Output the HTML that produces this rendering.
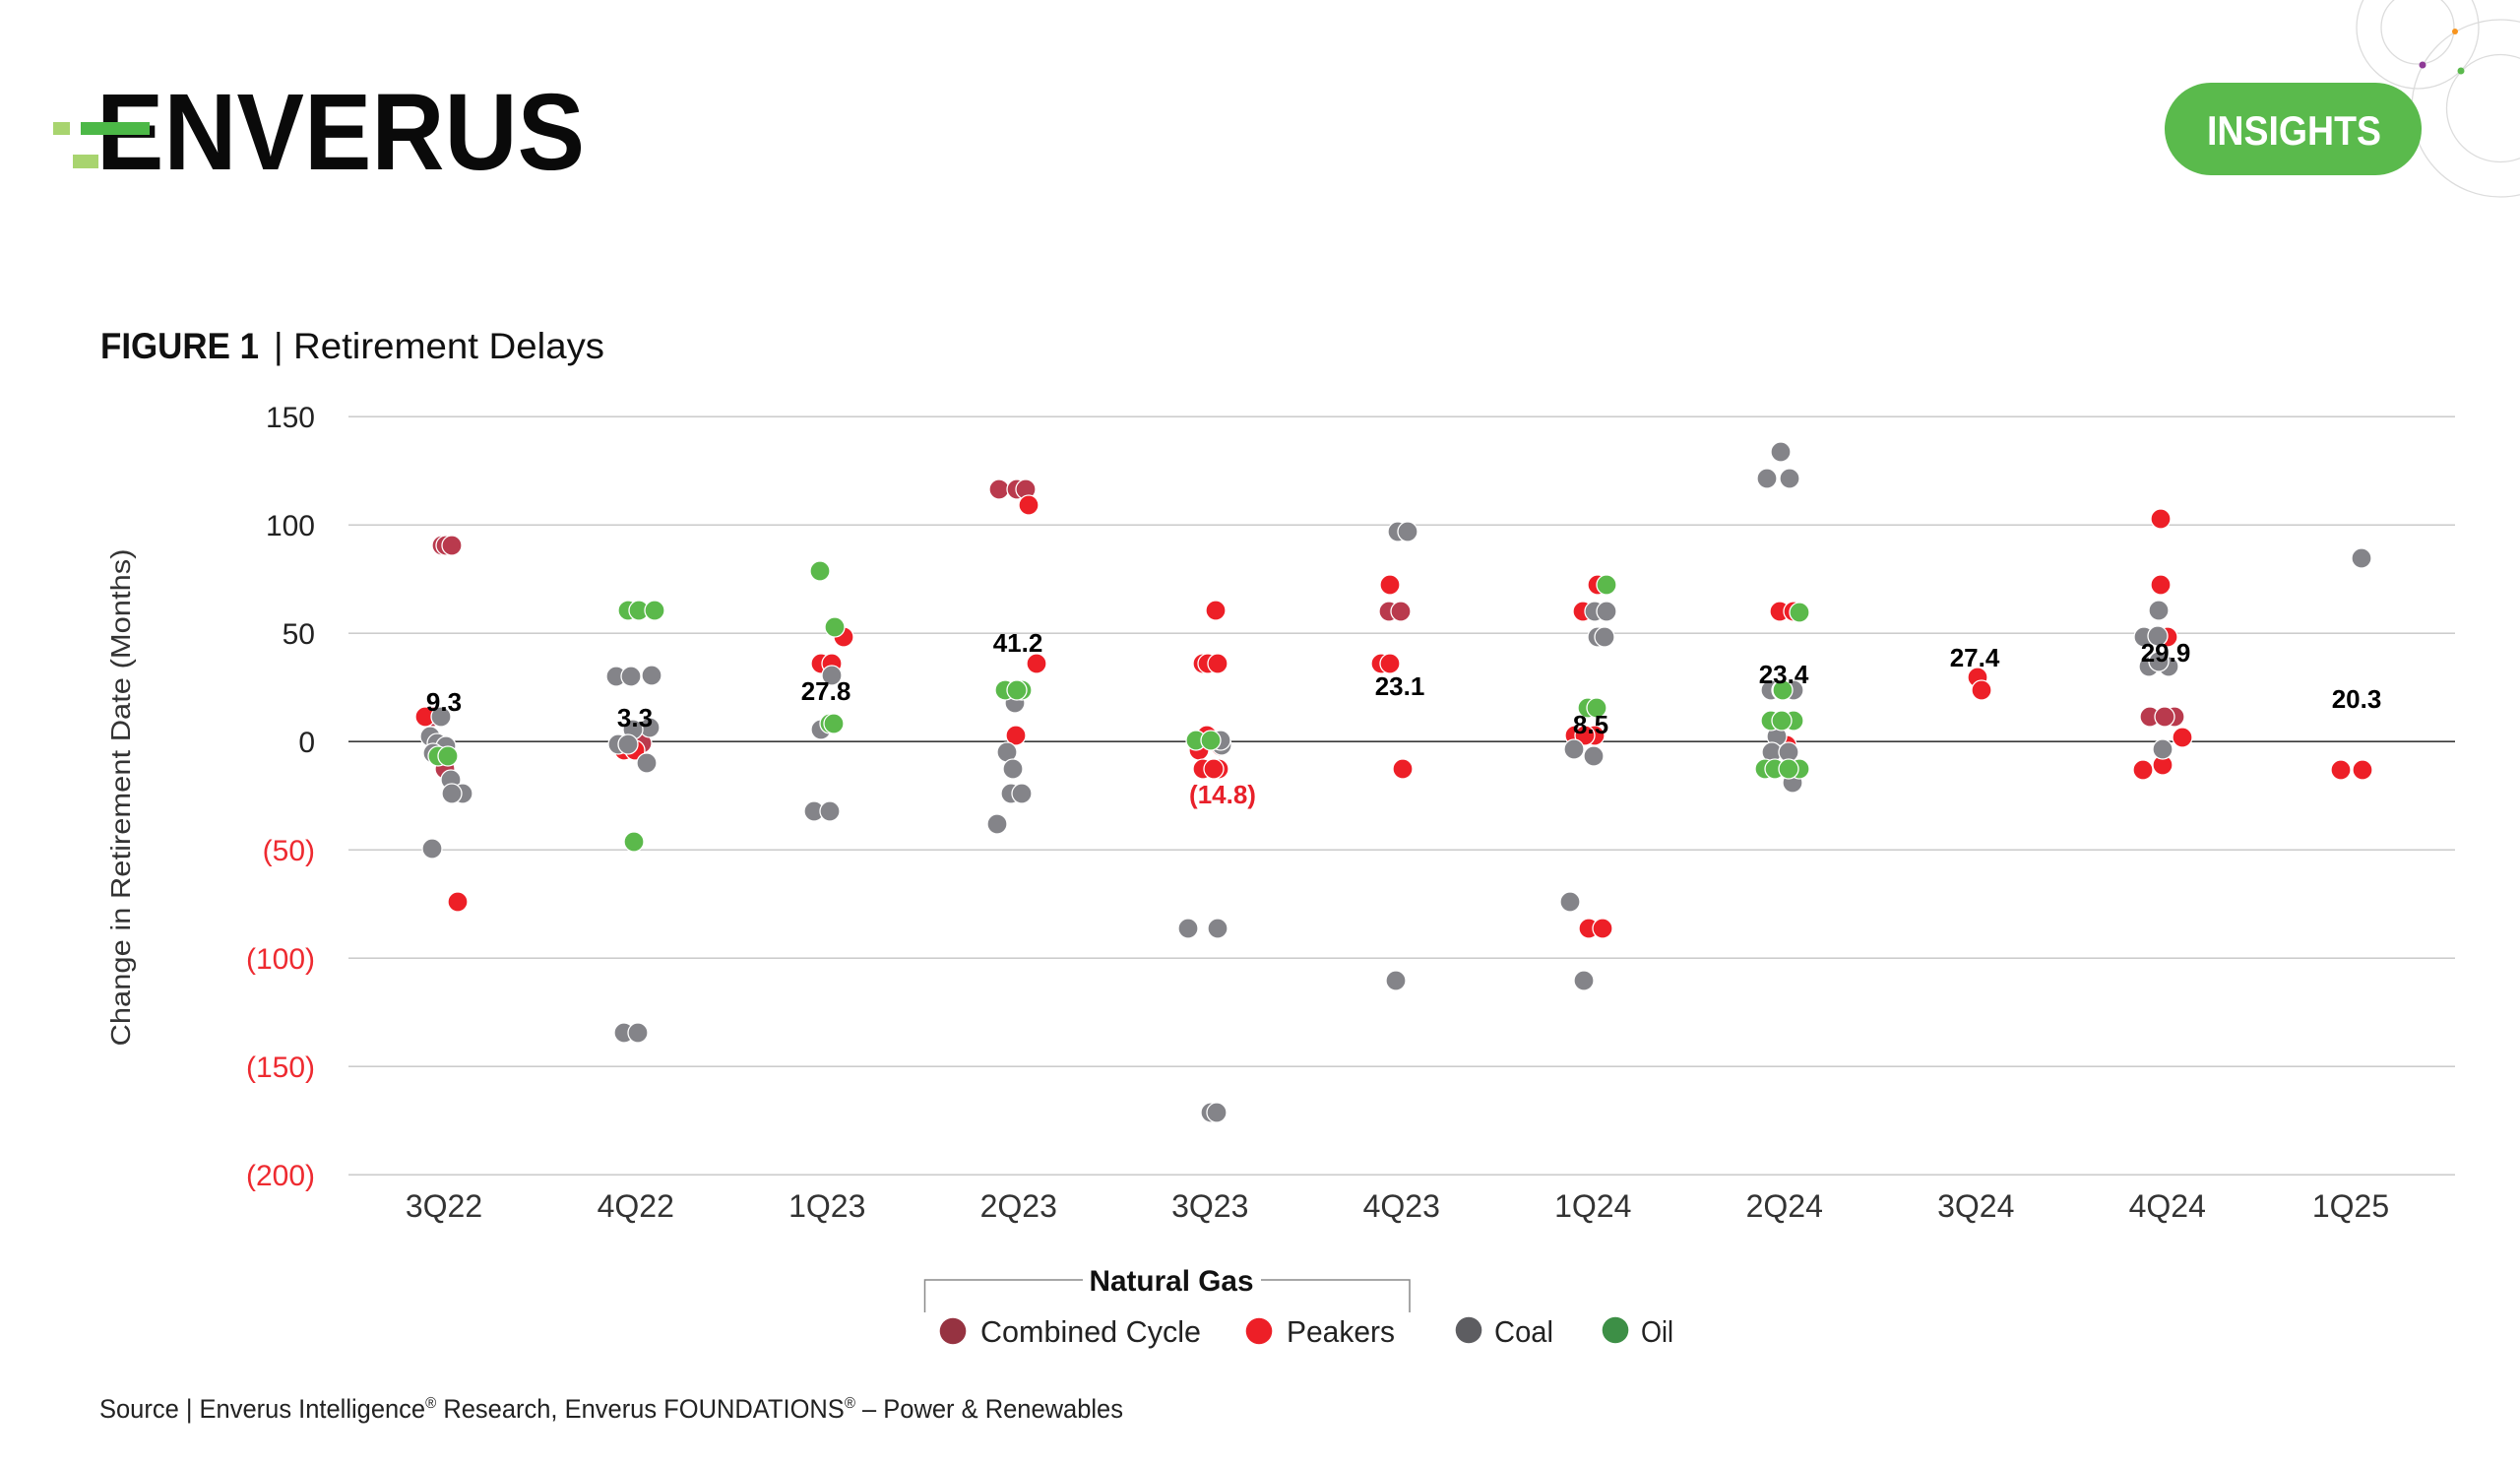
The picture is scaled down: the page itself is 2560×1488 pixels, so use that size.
<!DOCTYPE html>
<html><head><meta charset="utf-8"><style>
html,body{margin:0;padding:0;background:#fff;}
svg{display:block;font-family:"Liberation Sans",Arial,sans-serif;}
.cc{fill:#b93a4d;stroke:#fff;stroke-width:1.3}
.pk{fill:#ed1f27;stroke:#fff;stroke-width:1.3}
.co{fill:#848489;stroke:#fff;stroke-width:1.3}
.oi{fill:#5bb94b;stroke:#fff;stroke-width:1.3}
.yl{font-size:30px;fill:#222;text-anchor:end}
.yn{font-size:30px;fill:#ee2a30;text-anchor:end}
.xl{font-size:32px;fill:#333;text-anchor:middle}
.dl{font-size:26px;font-weight:bold;fill:#000;text-anchor:middle}
</style></head><body>
<svg width="2560" height="1488" viewBox="0 0 2560 1488" xmlns="http://www.w3.org/2000/svg">
<rect width="2560" height="1488" fill="#fff"/>
<!-- decorative circles -->
<g fill="none" stroke="#dcdcdc" stroke-width="1.3">
<circle cx="2456" cy="28" r="37"/><circle cx="2456" cy="28" r="62"/>
<circle cx="2540" cy="110" r="90"/><circle cx="2540" cy="110" r="54.5"/>
</g>
<circle cx="2494" cy="32" r="3" fill="#f7941d"/>
<circle cx="2461" cy="66" r="3.5" fill="#8e3a96"/>
<circle cx="2500" cy="72" r="3.5" fill="#5ab94c"/>
<!-- logo -->
<text x="98" y="172" font-size="110" font-weight="bold" fill="#0a0a0a" textLength="496" lengthAdjust="spacingAndGlyphs">ENVERUS</text>
<rect x="54" y="124" width="17" height="13" fill="#a8d46f"/>
<rect x="82" y="124" width="70" height="13" fill="#4cb847"/>
<rect x="74" y="157" width="26" height="14" fill="#a8d46f"/>
<!-- insights pill -->
<rect x="2199" y="84" width="261" height="94" rx="47" fill="#5aba4c"/>
<text x="2330.5" y="147" font-size="42" font-weight="bold" fill="#fff" text-anchor="middle" textLength="177" lengthAdjust="spacingAndGlyphs">INSIGHTS</text>
<!-- title -->
<text x="102" y="364" font-size="37" fill="#111"><tspan font-weight="bold" textLength="161" lengthAdjust="spacingAndGlyphs">FIGURE 1</tspan></text>
<text x="278" y="364" font-size="37" fill="#111">|</text>
<text x="298" y="364" font-size="37" fill="#111" textLength="316" lengthAdjust="spacingAndGlyphs">Retirement Delays</text>
<!-- gridlines -->
<g stroke="#c4c4c4" stroke-width="1.3">
<line x1="354" y1="423.2" x2="2494" y2="423.2"/>
<line x1="354" y1="533.2" x2="2494" y2="533.2"/>
<line x1="354" y1="643.2" x2="2494" y2="643.2"/>
<line x1="354" y1="863.2" x2="2494" y2="863.2"/>
<line x1="354" y1="973.2" x2="2494" y2="973.2"/>
<line x1="354" y1="1083.2" x2="2494" y2="1083.2"/>
<line x1="354" y1="1193.2" x2="2494" y2="1193.2"/>
</g>
<line x1="354" y1="753.2" x2="2494" y2="753.2" stroke="#3a3a3a" stroke-width="1.6"/>
<!-- y labels -->
<text class="yl" x="320" y="434">150</text>
<text class="yl" x="320" y="544">100</text>
<text class="yl" x="320" y="654">50</text>
<text class="yl" x="320" y="764">0</text>
<text class="yn" x="320" y="874">(50)</text>
<text class="yn" x="320" y="984">(100)</text>
<text class="yn" x="320" y="1094">(150)</text>
<text class="yn" x="320" y="1204">(200)</text>
<text x="0" y="0" font-size="28" fill="#333" text-anchor="middle" transform="translate(132 810) rotate(-90)" textLength="505" lengthAdjust="spacingAndGlyphs">Change in Retirement Date (Months)</text>
<!-- x labels -->
<g>
<text class="xl" x="451" y="1236">3Q22</text>
<text class="xl" x="645.75" y="1236">4Q22</text>
<text class="xl" x="840.25" y="1236">1Q23</text>
<text class="xl" x="1034.75" y="1236">2Q23</text>
<text class="xl" x="1229.25" y="1236">3Q23</text>
<text class="xl" x="1423.75" y="1236">4Q23</text>
<text class="xl" x="1618.25" y="1236">1Q24</text>
<text class="xl" x="1812.75" y="1236">2Q24</text>
<text class="xl" x="2007.25" y="1236">3Q24</text>
<text class="xl" x="2201.75" y="1236">4Q24</text>
<text class="xl" x="2388" y="1236">1Q25</text>
</g>
<!-- points: CC -->
<g class="cc">
<circle cx="449" cy="554" r="10"/><circle cx="453" cy="554" r="10"/><circle cx="459" cy="554" r="10"/>
<circle cx="440" cy="728" r="10"/><circle cx="452" cy="781" r="10"/>
<circle cx="652" cy="755" r="10"/>
<circle cx="1015" cy="497" r="10"/><circle cx="1033" cy="497" r="10"/><circle cx="1042" cy="497" r="10"/>
<circle cx="1411" cy="621" r="10"/><circle cx="1423" cy="621" r="10"/>
<circle cx="2184" cy="728" r="10"/><circle cx="2209" cy="728" r="10"/><circle cx="2199" cy="728" r="10"/>
</g>
<!-- Peakers -->
<g class="pk">
<circle cx="432" cy="728" r="10"/><circle cx="465" cy="916" r="10"/>
<circle cx="634" cy="762" r="10"/><circle cx="645" cy="762" r="10"/>
<circle cx="857" cy="647" r="10"/><circle cx="834" cy="674" r="10"/><circle cx="845" cy="674" r="10"/>
<circle cx="1045" cy="513" r="10"/><circle cx="1053" cy="674" r="10"/><circle cx="1032" cy="747" r="10"/>
<circle cx="1235" cy="620" r="10"/><circle cx="1222" cy="674" r="10"/><circle cx="1227" cy="674" r="10"/><circle cx="1237" cy="674" r="10"/>
<circle cx="1226" cy="747" r="10"/><circle cx="1240" cy="758" r="10"/><circle cx="1218" cy="762" r="10"/>
<circle cx="1222" cy="781" r="10"/><circle cx="1238" cy="781" r="10"/><circle cx="1233" cy="781" r="10"/>
<circle cx="1412" cy="594" r="10"/><circle cx="1403" cy="674" r="10"/><circle cx="1412" cy="674" r="10"/><circle cx="1425" cy="781" r="10"/>
<circle cx="1623" cy="594" r="10"/><circle cx="1608" cy="621" r="10"/>
<circle cx="1600" cy="747" r="10"/><circle cx="1620" cy="747" r="10"/><circle cx="1610" cy="747" r="10"/>
<circle cx="1614" cy="943" r="10"/><circle cx="1628" cy="943" r="10"/>
<circle cx="1808" cy="621" r="10"/><circle cx="1822" cy="621" r="10"/><circle cx="1815" cy="757" r="10"/>
<circle cx="2009" cy="688" r="10"/><circle cx="2013" cy="701" r="10"/>
<circle cx="2195" cy="527" r="10"/><circle cx="2195" cy="594" r="10"/><circle cx="2202" cy="647" r="10"/>
<circle cx="2217" cy="749" r="10"/><circle cx="2197" cy="777" r="10"/><circle cx="2177" cy="782" r="10"/>
<circle cx="2378" cy="782" r="10"/><circle cx="2400" cy="782" r="10"/>
</g>
<!-- Coal -->
<g class="co">
<circle cx="448" cy="728" r="10"/><circle cx="437" cy="748" r="10"/><circle cx="444" cy="755" r="10"/><circle cx="453" cy="758" r="10"/>
<circle cx="440" cy="765" r="10"/><circle cx="458" cy="792" r="10"/><circle cx="470" cy="806" r="10"/><circle cx="459" cy="806" r="10"/>
<circle cx="439" cy="862" r="10"/>
<circle cx="626" cy="687" r="10"/><circle cx="641" cy="687" r="10"/><circle cx="662" cy="686" r="10"/>
<circle cx="660" cy="739" r="10"/><circle cx="643" cy="741" r="10"/><circle cx="628" cy="756" r="10"/><circle cx="638" cy="756" r="10"/>
<circle cx="657" cy="775" r="10"/><circle cx="634" cy="1049" r="10"/><circle cx="648" cy="1049" r="10"/>
<circle cx="845" cy="686" r="10"/><circle cx="834" cy="741" r="10"/><circle cx="827" cy="824" r="10"/><circle cx="843" cy="824" r="10"/>
<circle cx="1031" cy="714" r="10"/><circle cx="1023" cy="764" r="10"/><circle cx="1029" cy="781" r="10"/>
<circle cx="1027" cy="806" r="10"/><circle cx="1038" cy="806" r="10"/><circle cx="1013" cy="837" r="10"/>
<circle cx="1241" cy="757" r="10"/><circle cx="1240" cy="752" r="10"/>
<circle cx="1207" cy="943" r="10"/><circle cx="1237" cy="943" r="10"/><circle cx="1230" cy="1130" r="10"/><circle cx="1236" cy="1130" r="10"/>
<circle cx="1420" cy="540" r="10"/><circle cx="1430" cy="540" r="10"/><circle cx="1418" cy="996" r="10"/>
<circle cx="1620" cy="621" r="10"/><circle cx="1632" cy="621" r="10"/><circle cx="1623" cy="647" r="10"/><circle cx="1630" cy="647" r="10"/>
<circle cx="1599" cy="761" r="10"/><circle cx="1619" cy="768" r="10"/><circle cx="1595" cy="916" r="10"/><circle cx="1609" cy="996" r="10"/>
<circle cx="1809" cy="459" r="10"/><circle cx="1795" cy="486" r="10"/><circle cx="1818" cy="486" r="10"/>
<circle cx="1799" cy="701" r="10"/><circle cx="1822" cy="701" r="10"/><circle cx="1810" cy="701" r="10"/>
<circle cx="1805" cy="748" r="10"/><circle cx="1800" cy="764" r="10"/><circle cx="1817" cy="764" r="10"/><circle cx="1821" cy="795" r="10"/>
<circle cx="2193" cy="620" r="10"/><circle cx="2178" cy="647" r="10"/><circle cx="2192" cy="646" r="10"/>
<circle cx="2183" cy="677" r="10"/><circle cx="2203" cy="677" r="10"/><circle cx="2193" cy="672" r="10"/>
<circle cx="2197" cy="761" r="10"/>
<circle cx="2399" cy="567" r="10"/>
</g>
<!-- Oil -->
<g class="oi">
<circle cx="445" cy="768" r="10"/><circle cx="455" cy="768" r="10"/>
<circle cx="638" cy="620" r="10"/><circle cx="649" cy="620" r="10"/><circle cx="665" cy="620" r="10"/><circle cx="644" cy="855" r="10"/>
<circle cx="833" cy="580" r="10"/><circle cx="848" cy="637" r="10"/><circle cx="843" cy="735" r="10"/><circle cx="847" cy="735" r="10"/>
<circle cx="1021" cy="701" r="10"/><circle cx="1038" cy="701" r="10"/><circle cx="1033" cy="701" r="10"/>
<circle cx="1215" cy="752" r="10"/><circle cx="1230" cy="752" r="10"/>
<circle cx="1632" cy="594" r="10"/><circle cx="1613" cy="719" r="10"/><circle cx="1622" cy="719" r="10"/>
<circle cx="1828" cy="622" r="10"/><circle cx="1811" cy="701" r="10"/>
<circle cx="1799" cy="732" r="10"/><circle cx="1822" cy="732" r="10"/><circle cx="1810" cy="732" r="10"/>
<circle cx="1793" cy="781" r="10"/><circle cx="1828" cy="781" r="10"/><circle cx="1803" cy="781" r="10"/><circle cx="1817" cy="781" r="10"/>
</g>
<!-- data labels -->
<text class="dl" x="451" y="722">9.3</text>
<text class="dl" x="645" y="738">3.3</text>
<text class="dl" x="839" y="711">27.8</text>
<text class="dl" x="1034" y="662">41.2</text>
<text class="dl" x="1242" y="816" fill="#e8202a" style="fill:#e8202a">(14.8)</text>
<text class="dl" x="1422" y="706">23.1</text>
<text class="dl" x="1616" y="745">8.5</text>
<text class="dl" x="1812" y="694">23.4</text>
<text class="dl" x="2006" y="677">27.4</text>
<text class="dl" x="2200" y="672">29.9</text>
<text class="dl" x="2394" y="719">20.3</text>
<!-- legend -->
<g stroke="#8a8a8a" stroke-width="1.5" fill="none">
<polyline points="939.5,1333 939.5,1300 1100,1300"/>
<polyline points="1281,1300 1432,1300 1432,1333"/>
</g>
<text x="1190" y="1311" font-size="30" font-weight="bold" fill="#111" text-anchor="middle" textLength="167" lengthAdjust="spacingAndGlyphs">Natural Gas</text>
<circle cx="968" cy="1352" r="13.3" fill="#963341"/>
<text x="996" y="1363" font-size="31" fill="#222" textLength="224" lengthAdjust="spacingAndGlyphs">Combined Cycle</text>
<circle cx="1279" cy="1352" r="13.3" fill="#ed1f27"/>
<text x="1307" y="1363" font-size="31" fill="#222" textLength="110" lengthAdjust="spacingAndGlyphs">Peakers</text>
<circle cx="1492" cy="1351" r="13.3" fill="#5d5d61"/>
<text x="1518" y="1363" font-size="31" fill="#222" textLength="60" lengthAdjust="spacingAndGlyphs">Coal</text>
<circle cx="1641" cy="1351" r="13.3" fill="#3d8f46"/>
<text x="1667" y="1363" font-size="31" fill="#222" textLength="33" lengthAdjust="spacingAndGlyphs">Oil</text>
<!-- source -->
<text x="101" y="1440" font-size="27" fill="#222" textLength="1040" lengthAdjust="spacingAndGlyphs">Source | Enverus Intelligence<tspan font-size="16" dy="-10">®</tspan><tspan dy="10"> Research, Enverus FOUNDATIONS</tspan><tspan font-size="16" dy="-10">®</tspan><tspan dy="10"> – Power &amp; Renewables</tspan></text>
</svg>
</body></html>
